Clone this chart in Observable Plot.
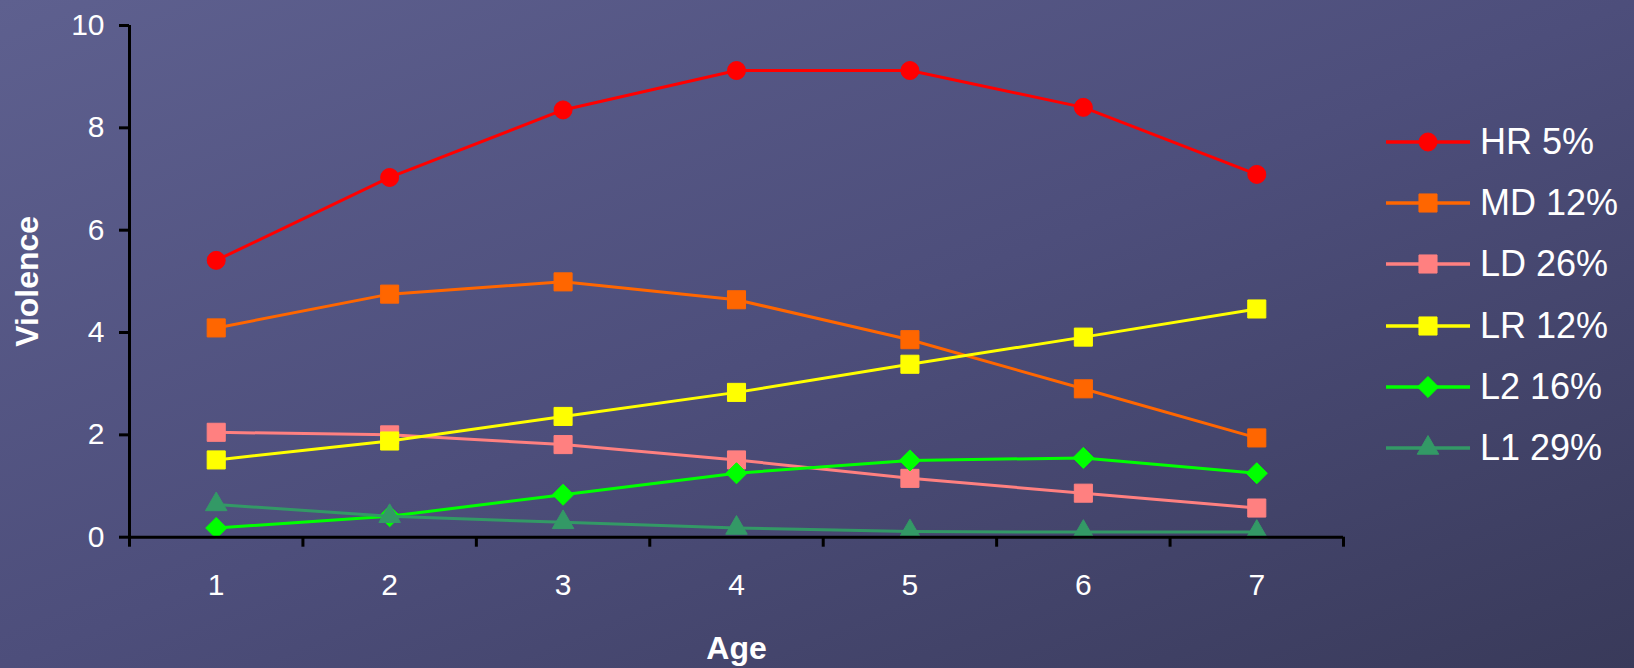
<!DOCTYPE html>
<html>
<head>
<meta charset="utf-8">
<script src="https://cdn.jsdelivr.net/npm/d3@7"></script>
<script src="https://cdn.jsdelivr.net/npm/@observablehq/plot@0.6"></script>
<style>
  html, body { margin: 0; padding: 0; }
  body {
    width: 1634px; height: 668px; overflow: hidden; position: relative;
    background: linear-gradient(to bottom right, #5e608f 0%, #4d4e7b 50%, #393a5a 100%);
    font-family: "Liberation Sans", Arial, sans-serif;
  }
  #chart { position: absolute; left: 0; top: 0; }
  #legend { position: absolute; left: 1386px; top: 111px; color: #fff; }
  .row { display: flex; align-items: center; height: 61.3px; font-size: 36px; white-space: nowrap; }
  .row svg { margin-right: 10px; overflow: visible; }
</style>
</head>
<body>
<div id="chart"></div>
<div id="legend"></div>
<script>
// Age categories and violence scores per trajectory group
const ages = [1, 2, 3, 4, 5, 6, 7];
const hr = [5.41, 7.03, 8.35, 9.12, 9.12, 8.40, 7.09];
const md = [4.09, 4.75, 4.99, 4.64, 3.86, 2.90, 1.94];
const ld = [2.05, 2.00, 1.81, 1.51, 1.15, 0.86, 0.57];
const lr = [1.51, 1.88, 2.36, 2.83, 3.38, 3.91, 4.46];
const l2 = [0.18, 0.41, 0.83, 1.25, 1.50, 1.55, 1.25];
const l1 = [0.64, 0.41, 0.29, 0.18, 0.11, 0.10, 0.10];
const seriesNames = ["HR 5%", "MD 12%", "LD 26%", "LR 12%", "L2 16%", "L1 29%"];
const seriesValues = [hr, md, ld, lr, l2, l1];
const yTicks = [0, 2, 4, 6, 8, 10];
const ageBounds = [0.5, 1.5, 2.5, 3.5, 4.5, 5.5, 6.5, 7.5];

// Look of each series: colour, marker shape and marker size
const styles = [
  {color: "#ff0000", symbol: "circle",   r: 9},
  {color: "#ff6600", symbol: "square",   r: 10.2},
  {color: "#ff8080", symbol: "square",   r: 10.2},
  {color: "#ffff00", symbol: "square",   r: 10.2},
  {color: "#00ff00", symbol: "diamond2", r: 9.5},
  {color: "#339966", symbol: "triangle", r: 8}
];
const d3Symbols = {
  circle: d3.symbolCircle, square: d3.symbolSquare,
  diamond2: d3.symbolDiamond2, triangle: d3.symbolTriangle
};

const rows = seriesNames.flatMap((name, s) =>
  ages.map((age, i) => ({series: name, age, value: seriesValues[s][i]})));

// Each series draws its line and then its markers, in series order
const seriesMarks = seriesNames.flatMap((name, s) => {
  const data = rows.filter(d => d.series === name);
  const st = styles[s];
  return [
    Plot.line(data, {x: "age", y: "value", stroke: st.color, strokeWidth: 3}),
    Plot.dot(data, {x: "age", y: "value", symbol: st.symbol, r: st.r,
                    fill: st.color, stroke: st.color, strokeWidth: 1})
  ];
});

const chart = Plot.plot({
  width: 1370,
  height: 668,
  marginLeft: 129,
  marginRight: 27,
  marginTop: 25,
  marginBottom: 131.3,
  style: {background: "transparent", color: "white", overflow: "visible",
          fontFamily: "'Liberation Sans', Arial, sans-serif"},
  x: {type: "linear", domain: [0.5, 7.5]},
  y: {domain: [0, 10]},
  marks: [
    ...seriesMarks,
    Plot.ruleY([0], {stroke: "black", strokeWidth: 3}),
    Plot.ruleX([0.5], {stroke: "black", strokeWidth: 3}),
    Plot.axisY({ticks: yTicks, tickSize: 10, tickPadding: 15, stroke: "black",
                strokeWidth: 3, fill: "white", fontSize: 30, label: null}),
    Plot.axisX({ticks: ageBounds, tickSize: 10, tickFormat: () => "", stroke: "black",
                strokeWidth: 3, label: null}),
    Plot.axisX({ticks: ages, tickSize: 0, tickPadding: 36, tickFormat: d => String(d),
                fill: "white", fontSize: 30, label: null}),
    Plot.text(["Age"], {text: d => d, frameAnchor: "bottom", dy: 112,
                        textAnchor: "middle", lineAnchor: "middle",
                        fill: "white", fontSize: 32, fontWeight: "bold"}),
    Plot.text(["Violence"], {text: d => d, frameAnchor: "left", dx: -102, rotate: -90,
                             textAnchor: "middle", lineAnchor: "middle",
                             fill: "white", fontSize: 32, fontWeight: "bold"})
  ]
});
document.getElementById("chart").append(chart);

// Legend: line swatch with centred marker, then the group label
const legend = d3.select("#legend");
seriesNames.forEach((name, s) => {
  const st = styles[s];
  const row = legend.append("div").attr("class", "row");
  const svg = row.append("svg").attr("width", 84).attr("height", 30);
  svg.append("line").attr("x1", 0).attr("x2", 84).attr("y1", 15).attr("y2", 15)
    .attr("stroke", st.color).attr("stroke-width", 3.5);
  svg.append("path")
    .attr("d", d3.symbol(d3Symbols[st.symbol], Math.PI * st.r * st.r)())
    .attr("transform", "translate(42,15)")
    .attr("fill", st.color).attr("stroke", st.color);
  row.append("span").text(name);
});
</script>
</body>
</html>
